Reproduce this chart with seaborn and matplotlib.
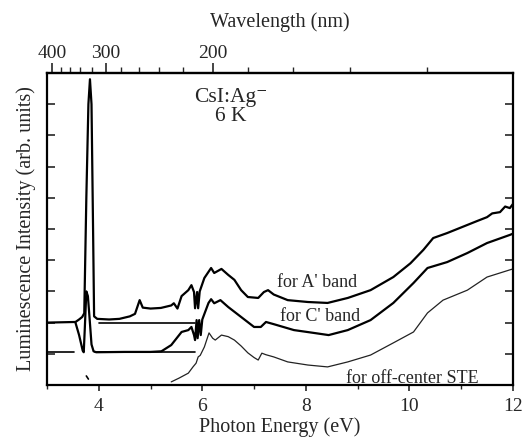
import numpy as np
import pandas as pd
import matplotlib
matplotlib.use("Agg")
import matplotlib.pyplot as plt
from matplotlib.ticker import FixedLocator, MultipleLocator, NullFormatter
import seaborn as sns

# ---- data ----
a_energy = [3.0, 3.55, 3.62, 3.68, 3.72, 3.76, 3.80, 3.83, 3.86, 3.89, 3.91, 3.97, 4.2, 4.4, 4.6, 4.7,
            4.79, 4.85, 5.0, 5.2, 5.4, 5.45, 5.52, 5.6, 5.73, 5.79, 5.84, 5.86, 5.9, 5.92, 5.95, 6.04,
            6.17, 6.23, 6.37, 6.5, 6.62, 6.75, 6.88, 7.08, 7.19, 7.27, 7.38, 7.65, 8.04, 8.42, 8.81,
            9.25, 9.69, 10.02, 10.27, 10.46, 10.73, 11.12, 11.3, 11.5, 11.6, 11.75, 11.85, 11.94, 12.0]
a_intensity = [2.0, 2.02, 2.1, 2.18, 2.3, 6.0, 9.0, 9.8, 9.0, 5.0, 2.2, 2.12, 2.1, 2.12, 2.2, 2.28,
               2.72, 2.48, 2.45, 2.47, 2.55, 2.62, 2.45, 2.85, 3.04, 3.2, 2.98, 2.46, 2.98, 2.46, 3.0, 3.43,
               3.75, 3.59, 3.72, 3.53, 3.37, 3.04, 2.82, 2.79, 2.98, 3.04, 2.9, 2.72, 2.66, 2.63, 2.79,
               3.04, 3.46, 3.9, 4.33, 4.71, 4.87, 5.13, 5.25, 5.38, 5.5, 5.54, 5.72, 5.67, 5.8]

c_energy = [3.55, 3.62, 3.69, 3.71, 3.73, 3.76, 3.79, 3.82, 3.86, 3.9, 3.95, 4.5, 5.0, 5.21, 5.4, 5.6,
            5.73, 5.79, 5.84, 5.86, 5.89, 5.91, 5.94, 5.97, 6.0, 6.12, 6.17, 6.23, 6.35, 6.5, 6.75,
            7.0, 7.13, 7.23, 7.38, 7.77, 8.15, 8.44, 8.81, 9.25, 9.69, 10.08, 10.35, 10.73, 11.12,
            11.5, 11.94, 12.0]
c_intensity = [2.0, 1.6, 1.1, 1.05, 1.8, 3.0, 2.85, 2.2, 1.3, 1.08, 1.05, 1.06, 1.06, 1.08, 1.28, 1.7,
               1.76, 1.86, 1.6, 1.44, 2.08, 1.5, 2.08, 1.6, 2.1, 2.63, 2.75, 2.62, 2.72, 2.5, 2.18,
               1.86, 1.86, 2.02, 1.95, 1.76, 1.67, 1.6, 1.76, 2.08, 2.63, 3.27, 3.75, 3.94, 4.23,
               4.55, 4.81, 4.85]

ste_energy = [5.4, 5.55, 5.73, 5.82, 5.88, 5.92, 5.96, 6.04, 6.13, 6.2, 6.25, 6.37, 6.5, 6.62, 6.75,
              6.88, 7.0, 7.08, 7.15, 7.23, 7.38, 7.65, 8.04, 8.42, 8.81, 9.25, 9.69, 10.08, 10.35,
              10.65, 11.12, 11.5, 11.94, 12.0]
ste_intensity = [0.1, 0.22, 0.38, 0.58, 0.7, 0.9, 0.95, 1.22, 1.67, 1.5, 1.44, 1.6, 1.55, 1.44, 1.25,
                 1.03, 0.88, 0.8, 1.02, 0.97, 0.9, 0.74, 0.64, 0.58, 0.74, 0.96, 1.35, 1.7, 2.31,
                 2.72, 3.04, 3.46, 3.69, 3.72]
ste_frag_energy = [3.76, 3.80]
ste_frag_intensity = [0.29, 0.19]

# zero-level reference lines
a_zero_level = 2.0
a_zero_x = [(4.0, 5.85)]
c_zero_level = 1.05
c_zero_x = [(3.0, 3.53), (3.92, 5.85)]

wl_major = [400, 300, 200]
wl_minor = [380, 360, 340, 320, 280, 260, 240, 220, 180, 160, 140, 120]
x_major = [4, 6, 8, 10, 12]

# ---- plotting ----
sns.set_theme(style="ticks")
plt.rcParams['font.family'] = ['Liberation Serif', 'DejaVu Serif']

fig = plt.figure(figsize=(5.25, 4.47), dpi=100)
ax = fig.add_axes([0.0895, 0.1387, 0.8875, 0.698])

def draw(x, y, lw, color="black"):
    df = pd.DataFrame({"E": x, "I": y})
    sns.lineplot(data=df, x="E", y="I", ax=ax, sort=False, estimator=None,
                 color=color, linewidth=lw)

draw(a_energy, a_intensity, 1.6)
draw(c_energy, c_intensity, 1.6)
draw(ste_energy, ste_intensity, 0.9, "#222222")
draw(ste_frag_energy, ste_frag_intensity, 1.2)
for x0, x1 in a_zero_x:
    draw([x0, x1], [a_zero_level, a_zero_level], 1.2)
for x0, x1 in c_zero_x:
    draw([x0, x1], [c_zero_level, c_zero_level], 1.2)

ax.set_xlim(3, 12)
ax.set_ylim(0, 10)
ax.set_xlabel("Photon Energy (eV)", fontsize=14.5, labelpad=2)
ax.set_ylabel("Luminescence Intensity (arb. units)", fontsize=14.5, labelpad=8)

for s in ax.spines.values():
    s.set_linewidth(1.6)
    s.set_color("black")

ax.xaxis.set_major_locator(FixedLocator(x_major))
ax.xaxis.set_minor_locator(MultipleLocator(1))
ax.tick_params(axis="x", which="major", direction="out", length=4, width=1.2,
               labelsize=14, top=False, pad=5)
ax.tick_params(axis="x", which="minor", direction="out", length=3, width=1.0, top=False)
ax.yaxis.set_major_locator(MultipleLocator(1))
ax.tick_params(axis="y", which="major", direction="in", length=6, width=1.2,
               left=True, right=True, labelleft=False)

sec = ax.secondary_xaxis("top", functions=(lambda e: 1239.84 / np.maximum(e, 1e-6),
                                             lambda w: 1239.84 / np.maximum(w, 1e-6)))
sec.xaxis.set_major_locator(FixedLocator(wl_major))
sec.xaxis.set_minor_locator(FixedLocator(wl_minor))
sec.xaxis.set_minor_formatter(NullFormatter())
sec.tick_params(axis="x", which="major", direction="out", length=7, width=1.2, labelsize=14, pad=1)
sec.tick_params(axis="x", which="minor", direction="out", length=4, width=1.0)
sec.spines["top"].set_linewidth(1.6)
sec.set_xlabel("Wavelength (nm)", fontsize=14.5, labelpad=13)

ax.text(6.55, 9.22, "CsI:Ag\u207b", fontsize=15.5, ha="center", va="center")
ax.text(6.55, 8.6, "6 K", fontsize=15.5, ha="center", va="center")
ax.text(8.21, 3.27, "for A' band", fontsize=13, ha="center", va="center")
ax.text(8.27, 2.21, "for C' band", fontsize=13, ha="center", va="center")
ax.text(10.06, 0.22, "for off-center STE", fontsize=13, ha="center", va="center")

fig.savefig("out.png", dpi=100)
